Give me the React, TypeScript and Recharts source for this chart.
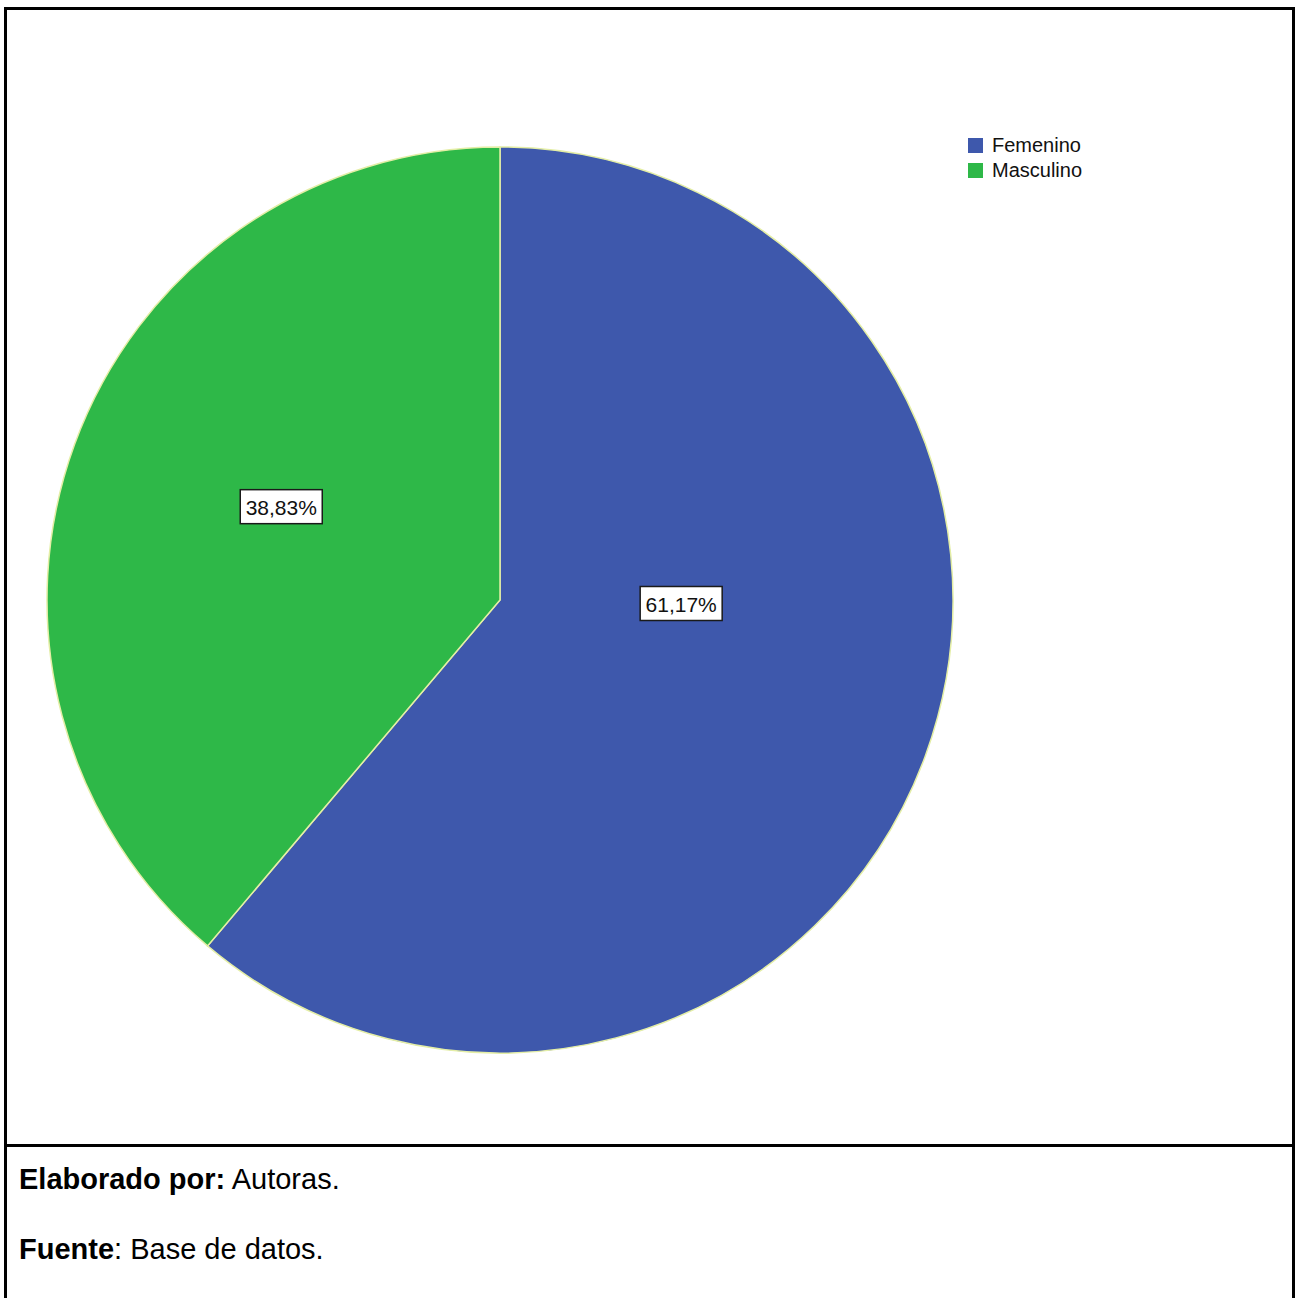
import React from 'react';
import { PieChart, Pie, Cell, Legend } from 'recharts';

const categories = ['Femenino', 'Masculino'];
const percentages = [61.17, 38.83];
const colors = ['#3e58ac', '#2eb848'];

const data = categories.map((name, i) => ({ name, value: percentages[i] }));

const FONT = '"Liberation Sans", Arial, sans-serif';
const RAD = Math.PI / 180;

// SPSS puts the value boxes a bit off the slice mid-angle
const labelShift = [19, -3];
const labelDepth = [0.4, 0.525];

const renderLabel = (props: any) => {
  const { cx, cy, midAngle, outerRadius, index, value } = props;
  const a = (midAngle + labelShift[index]) * RAD;
  const r = outerRadius * labelDepth[index];
  const x = cx + r * Math.cos(a);
  const y = cy - r * Math.sin(a);
  const text = Number(value).toFixed(2).replace('.', ',') + '%';
  return (
    <g>
      <rect x={x - 41} y={y - 17} width={82} height={34} fill="#fff" stroke="#1a1a1a" strokeWidth={1.5} />
      <text
        x={x}
        y={y + 1}
        textAnchor="middle"
        dominantBaseline="central"
        fontSize={21}
        fontFamily={FONT}
        fill="#111"
      >
        {text}
      </text>
    </g>
  );
};

const LegendBox = () => (
  <div style={{ fontFamily: FONT, fontSize: 20, color: '#111' }}>
    {categories.map((c, i) => (
      <div key={c} style={{ display: 'flex', alignItems: 'center', height: 25 }}>
        <span
          style={{ display: 'inline-block', width: 15, height: 15, background: colors[i], marginRight: 9 }}
        />
        {c}
      </div>
    ))}
  </div>
);

export default function App() {
  return (
    <div style={{ position: 'absolute', left: 0, top: 0, width: 1297, height: 1298, background: '#fff', overflow: 'hidden' }}>
      {/* table frame */}
      <div
        style={{
          position: 'absolute',
          left: 4,
          top: 7,
          width: 1291,
          height: 1320,
          border: '3px solid #000',
          boxSizing: 'border-box',
        }}
      />
      <div style={{ position: 'absolute', left: 4, top: 1144, width: 1291, height: 3, background: '#000' }} />

      <div style={{ position: 'absolute', left: 0, top: 0 }}>
        <PieChart width={1290} height={1140} margin={{ top: 0, right: 0, bottom: 0, left: 0 }}>
          <Pie
            data={data}
            dataKey="value"
            nameKey="name"
            cx={500}
            cy={600}
            outerRadius={453}
            startAngle={90}
            endAngle={-270}
            stroke="#e4eea6"
            strokeWidth={1.5}
            label={renderLabel}
            labelLine={false}
            isAnimationActive={false}
          >
            {data.map((d, i) => (
              <Cell key={d.name} fill={colors[i]} />
            ))}
          </Pie>
          <Legend
            content={<LegendBox />}
            wrapperStyle={{ position: 'absolute', left: 968, top: 133, width: 200 }}
          />
        </PieChart>
      </div>

      <div style={{ position: 'absolute', left: 19, top: 1163, fontFamily: FONT, fontSize: 29, lineHeight: '33px', color: '#000' }}>
        <b>Elaborado por:</b> Autoras.
      </div>
      <div style={{ position: 'absolute', left: 19, top: 1233, fontFamily: FONT, fontSize: 29, lineHeight: '33px', color: '#000' }}>
        <b>Fuente</b>: Base de datos.
      </div>
    </div>
  );
}
